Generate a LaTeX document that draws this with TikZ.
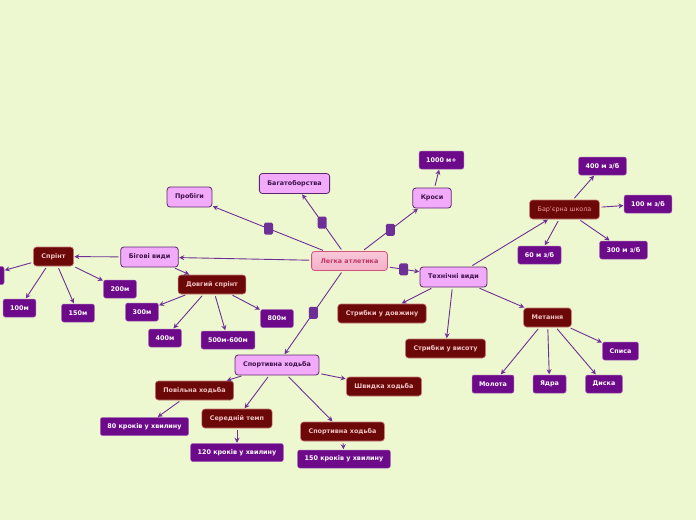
\documentclass[tikz,border=0pt]{standalone}
\usepackage{fontspec}
\setmainfont{DejaVu Sans}
\definecolor{bgcol}{RGB}{238,248,208}
\definecolor{lapink}{RGB}{242,170,250}
\definecolor{laplum}{RGB}{92,38,112}
\definecolor{ladark}{RGB}{60,18,72}
\definecolor{lared}{RGB}{108,8,8}
\definecolor{laredline}{RGB}{196,118,118}
\definecolor{laredtext}{RGB}{238,196,196}
\definecolor{laleaf}{RGB}{108,10,138}
\definecolor{laleafline}{RGB}{160,96,180}
\definecolor{laline}{RGB}{108,48,150}
\definecolor{laroot}{RGB}{244,176,200}
\definecolor{larootline}{RGB}{212,84,128}
\definecolor{laroottext}{RGB}{192,52,104}
\usetikzlibrary{arrows.meta}

\begin{document}
\begin{tikzpicture}[
  x=1pt, y=-1pt,
  every node/.style={font=\bfseries\fontsize{6.4}{7}\selectfont},
  root/.style={draw=larootline,top color=laroot!70,bottom color=laroot,text=laroottext,
               rounded corners=3pt,minimum height=19pt,inner xsep=9pt,line width=0.8pt},
  branch/.style={draw=laplum,fill=lapink,text=ladark,rounded corners=3pt,
                 minimum height=20pt,inner xsep=8pt,line width=0.8pt},
  group/.style={draw=laredline,fill=lared,text=laredtext,rounded corners=3pt,
                minimum height=19pt,inner xsep=8pt,line width=0.6pt},
  leaf/.style={draw=laleafline,fill=laleaf,text=white,rounded corners=2pt,
               minimum height=18pt,inner xsep=7pt,line width=0.5pt},
  knob/.style={fill=laline,rounded corners=1.5pt,minimum width=9pt,
               minimum height=12pt,inner sep=0pt},
  link/.style={draw=laline,line width=0.9pt,-{Stealth[length=5pt,width=5pt]},
               shorten <=2pt,shorten >=0.5pt},
]
  % Background
  \useasboundingbox (0,0) rectangle (696,520);
  \clip (0,0) rectangle (696,520);
  \fill[bgcol] (0,0) rectangle (696,520);

  % Root
  \node[root] (root) at (349.5,261) {Легка атлетика};

  % Branch nodes
  \node[branch] (prob)  at (189.5,197)   {Пробіги};
  \node[branch] (bagat) at (294.5,183.5) {Багатоборства};
  \node[branch] (krosy) at (432,198)     {Кроси};
  \node[branch] (bihovi) at (149.5,257)  {Бігові види};
  \node[branch] (tekhn) at (453.5,277)   {Технічні види};
  \node[branch] (khodba) at (277,365)    {Спортивна ходьба};

  % Arrows root -> branches
  \draw[link] (root) -- node[knob] {} (prob);
  \draw[link] (root) -- node[knob] {} (bagat);
  \draw[link] (root) -- node[knob] {} (krosy);
  \draw[link] (root) -- (bihovi);
  \draw[link] (root) -- node[knob] {} (tekhn);
  \draw[link] (root) -- node[knob] {} (khodba);

  % Cross-country
  \node[leaf] (k1000) at (441.5,160) {1000 м+};
  \draw[link] (krosy) -- (k1000);

  % Running
  \node[group] (sprint) at (53.5,256.5) {Спрінт};
  \node[group] (dovhyi) at (212,284.5)  {Довгий спрінт};
  \draw[link] (bihovi) -- (sprint);
  \draw[link] (bihovi) -- (dovhyi);

  \node[leaf,minimum width=36pt] (s60) at (-14,275.5) {};
  \node[leaf] (s100) at (19.5,308) {100м};
  \node[leaf] (s150) at (78,313)   {150м};
  \node[leaf] (s200) at (120,289)  {200м};
  \draw[link] (sprint) -- (s60);
  \draw[link] (sprint) -- (s100);
  \draw[link] (sprint) -- (s150);
  \draw[link] (sprint) -- (s200);

  \node[leaf] (d300) at (142,312)   {300м};
  \node[leaf] (d400) at (165,338)   {400м};
  \node[leaf] (d500) at (228,340)   {500м-600м};
  \node[leaf] (d800) at (277,318.5) {800м};
  \draw[link] (dovhyi) -- (d300);
  \draw[link] (dovhyi) -- (d400);
  \draw[link] (dovhyi) -- (d500);
  \draw[link] (dovhyi) -- (d800);

  % Technical events
  \node[group,font=\fontsize{6.4}{7}\selectfont,text=laredtext!80!red] (barier) at (564.5,209.5) {Бар'єрна школа};
  \node[group] (dovzh)  at (382,313.5)   {Стрибки у довжину};
  \node[group] (vysota) at (445.5,348.5) {Стрибки у висоту};
  \node[group] (metan)  at (547.5,317.5) {Метання};
  \draw[link] (tekhn) -- (barier);
  \draw[link] (tekhn) -- (dovzh);
  \draw[link] (tekhn) -- (vysota);
  \draw[link] (tekhn) -- (metan);

  \node[leaf] (b400) at (602.5,166) {400 м з/б};
  \node[leaf] (b100) at (648,204)   {100 м з/б};
  \node[leaf] (b60)  at (539.5,255) {60 м з/б};
  \node[leaf] (b300) at (623.5,250) {300 м з/б};
  \draw[link] (barier) -- (b400);
  \draw[link] (barier) -- (b100);
  \draw[link] (barier) -- (b60);
  \draw[link] (barier) -- (b300);

  \node[leaf] (molot) at (493,384)   {Молота};
  \node[leaf] (yadro) at (549.5,384) {Ядра};
  \node[leaf] (dysk)  at (604,384)   {Диска};
  \node[leaf] (spys)  at (620.5,351) {Списа};
  \draw[link] (metan) -- (molot);
  \draw[link] (metan) -- (yadro);
  \draw[link] (metan) -- (dysk);
  \draw[link] (metan) -- (spys);

  % Race walking
  \node[group] (povil)  at (194.5,390.5) {Повільна ходьба};
  \node[group] (seredn) at (237,418.5)   {Середній темп};
  \node[group] (sportr) at (342.5,431.5) {Спортивна ходьба};
  \node[group] (shvyd)  at (384,386.5)   {Швидка ходьба};
  \draw[link] (khodba) -- (povil);
  \draw[link] (khodba) -- (seredn);
  \draw[link] (khodba) -- (sportr);
  \draw[link] (khodba) -- (shvyd);

  \node[leaf] (w80)  at (144.5,426.5) {80 кроків у хвилину};
  \node[leaf] (w120) at (237,452.5)   {120 кроків у хвилину};
  \node[leaf] (w150) at (344,459)     {150 кроків у хвилину};
  \draw[link] (povil) -- (w80);
  \draw[link] (seredn) -- (w120);
  \draw[link] (sportr) -- (w150);
\end{tikzpicture}
\end{document}
